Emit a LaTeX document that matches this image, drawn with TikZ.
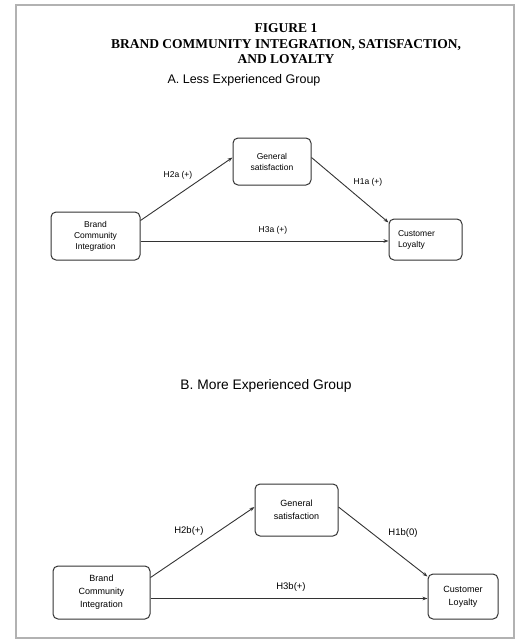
\documentclass[tikz,border=0pt]{standalone}
\usepackage{fontspec}
\setmainfont{Liberation Sans}
\newfontfamily\titlefont{Liberation Serif}
\usetikzlibrary{positioning, calc, arrows.meta}

\begin{document}
\begin{tikzpicture}[
    x=1pt, y=-1pt,
    >={Stealth[length=5pt, width=3.6pt]},
    box_a/.style={draw=black!80, rounded corners=5pt, line width=1pt, align=center,
        inner sep=1pt, font=\fontsize{8.5}{11}\selectfont},
    box_b/.style={box_a, font=\fontsize{9}{13}\selectfont},
    path_line/.style={->, black!80, line width=0.9pt},
    hyp_a/.style={inner sep=1pt, font=\fontsize{8.5}{10}\selectfont},
    hyp_b/.style={inner sep=1pt, font=\fontsize{9.5}{11}\selectfont}
]
    \useasboundingbox (0,0) rectangle (523,641);

    % Seitenrand
    \draw[black!30, line width=1.5pt] (16,5) rectangle (514,638);

    % ======================================================================
    % TITEL
    % ======================================================================
    \node[align=center, font=\titlefont\bfseries\fontsize{13.5}{15.5}\selectfont] (title) at (286,44)
        {FIGURE 1\\BRAND COMMUNITY INTEGRATION, SATISFACTION,\\AND LOYALTY};

    % ======================================================================
    % PANEL A: LESS EXPERIENCED GROUP
    % ======================================================================
    \begin{scope}[local bounding box=lessexp]
        \node[font=\fontsize{12.5}{14}\selectfont] (headA) at (244,80.5) {A. Less Experienced Group};

        % Boxen
        \node[box_a, minimum width=89pt, minimum height=48pt] (bciA) at (95.5,236)
            {Brand\\Community\\Integration};
        \node[box_a, minimum width=78pt, minimum height=47pt] (gsA) at (272,161.5)
            {General\\satisfaction};
        \node[box_a, minimum width=73pt, minimum height=41pt, text width=55pt, align=left] (clA) at (425.5,239.5)
            {Customer\\Loyalty};

        % Pfade
        \draw[path_line] ($(bciA.north east)+(0,9)$) -- ($(gsA.west)+(0,-4)$);
        \draw[path_line] ($(gsA.east)+(0,-4)$) -- ($(clA.north west)+(0,4)$);
        \draw[path_line] ($(bciA.east |- clA.west)+(0,1.5)$) -- ($(clA.west)+(0,1.5)$);

        % Hypothesen
        \node[hyp_a] (h2a) at (178,175) {H2a (+)};
        \node[hyp_a] (h1a) at (368,182) {H1a (+)};
        \node[hyp_a] (h3a) at (273,230) {H3a (+)};
    \end{scope}

    % ======================================================================
    % PANEL B: MORE EXPERIENCED GROUP
    % ======================================================================
    \begin{scope}[local bounding box=moreexp]
        \node[font=\fontsize{13.8}{15}\selectfont] (headB) at (266,386) {B. More Experienced Group};

        % Boxen
        \node[box_b, minimum width=97pt, minimum height=53pt] (bciB) at (101.5,592.5)
            {Brand\\Community\\Integration};
        \node[box_b, minimum width=83pt, minimum height=52pt] (gsB) at (296.5,510)
            {General\\satisfaction};
        \node[box_b, minimum width=70pt, minimum height=45pt] (clB) at (463,596.5)
            {Customer\\Loyalty};

        % Pfade
        \draw[path_line] ($(bciB.north east)+(0,12)$) -- ($(gsB.west)+(0,-3)$);
        \draw[path_line] ($(gsB.east)+(0,-3)$) -- ($(clB.north west)+(0,3)$);
        \draw[path_line] ($(bciB.east |- clB.west)+(0,2)$) -- ($(clB.west)+(0,2)$);

        % Hypothesen
        \node[hyp_b] (h2b) at (189,531) {H2b(+)};
        \node[hyp_b] (h1b) at (403,533) {H1b(0)};
        \node[hyp_b] (h3b) at (291,587) {H3b(+)};
    \end{scope}

\end{tikzpicture}
\end{document}
